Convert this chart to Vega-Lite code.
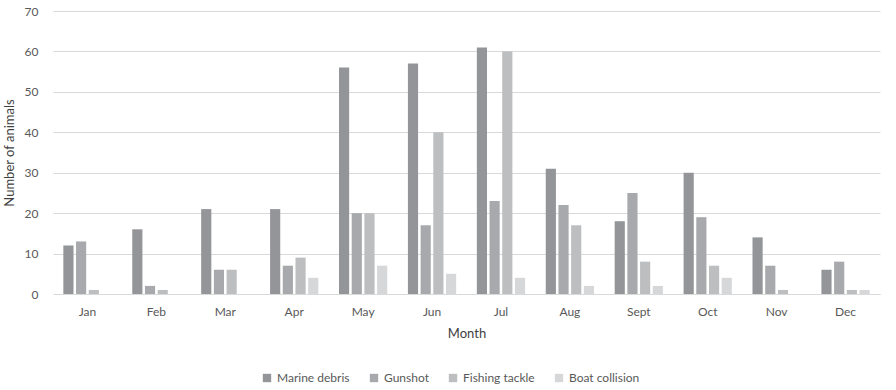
{
  "$schema": "https://vega.github.io/schema/vega-lite/v6.json",
  "width": 827,
  "height": 283,
  "autosize": {"type": "none"},
  "padding": {"left": 53, "top": 11, "right": 16, "bottom": 96},
  "background": "white",
  "data": {
    "values": [
      {"month": "Jan", "cause": "Marine debris", "n": 12},
      {"month": "Jan", "cause": "Gunshot", "n": 13},
      {"month": "Jan", "cause": "Fishing tackle", "n": 1},
      {"month": "Jan", "cause": "Boat collision", "n": 0},
      {"month": "Feb", "cause": "Marine debris", "n": 16},
      {"month": "Feb", "cause": "Gunshot", "n": 2},
      {"month": "Feb", "cause": "Fishing tackle", "n": 1},
      {"month": "Feb", "cause": "Boat collision", "n": 0},
      {"month": "Mar", "cause": "Marine debris", "n": 21},
      {"month": "Mar", "cause": "Gunshot", "n": 6},
      {"month": "Mar", "cause": "Fishing tackle", "n": 6},
      {"month": "Mar", "cause": "Boat collision", "n": 0},
      {"month": "Apr", "cause": "Marine debris", "n": 21},
      {"month": "Apr", "cause": "Gunshot", "n": 7},
      {"month": "Apr", "cause": "Fishing tackle", "n": 9},
      {"month": "Apr", "cause": "Boat collision", "n": 4},
      {"month": "May", "cause": "Marine debris", "n": 56},
      {"month": "May", "cause": "Gunshot", "n": 20},
      {"month": "May", "cause": "Fishing tackle", "n": 20},
      {"month": "May", "cause": "Boat collision", "n": 7},
      {"month": "Jun", "cause": "Marine debris", "n": 57},
      {"month": "Jun", "cause": "Gunshot", "n": 17},
      {"month": "Jun", "cause": "Fishing tackle", "n": 40},
      {"month": "Jun", "cause": "Boat collision", "n": 5},
      {"month": "Jul", "cause": "Marine debris", "n": 61},
      {"month": "Jul", "cause": "Gunshot", "n": 23},
      {"month": "Jul", "cause": "Fishing tackle", "n": 60},
      {"month": "Jul", "cause": "Boat collision", "n": 4},
      {"month": "Aug", "cause": "Marine debris", "n": 31},
      {"month": "Aug", "cause": "Gunshot", "n": 22},
      {"month": "Aug", "cause": "Fishing tackle", "n": 17},
      {"month": "Aug", "cause": "Boat collision", "n": 2},
      {"month": "Sept", "cause": "Marine debris", "n": 18},
      {"month": "Sept", "cause": "Gunshot", "n": 25},
      {"month": "Sept", "cause": "Fishing tackle", "n": 8},
      {"month": "Sept", "cause": "Boat collision", "n": 2},
      {"month": "Oct", "cause": "Marine debris", "n": 30},
      {"month": "Oct", "cause": "Gunshot", "n": 19},
      {"month": "Oct", "cause": "Fishing tackle", "n": 7},
      {"month": "Oct", "cause": "Boat collision", "n": 4},
      {"month": "Nov", "cause": "Marine debris", "n": 14},
      {"month": "Nov", "cause": "Gunshot", "n": 7},
      {"month": "Nov", "cause": "Fishing tackle", "n": 1},
      {"month": "Nov", "cause": "Boat collision", "n": 0},
      {"month": "Dec", "cause": "Marine debris", "n": 6},
      {"month": "Dec", "cause": "Gunshot", "n": 8},
      {"month": "Dec", "cause": "Fishing tackle", "n": 1},
      {"month": "Dec", "cause": "Boat collision", "n": 1}
    ]
  },
  "mark": {"type": "bar"},
  "encoding": {
    "x": {
      "field": "month",
      "type": "nominal",
      "sort": ["Jan", "Feb", "Mar", "Apr", "May", "Jun", "Jul", "Aug", "Sept", "Oct", "Nov", "Dec"],
      "scale": {"paddingInner": 0.3, "paddingOuter": 0.15},
      "axis": {
        "title": "Month",
        "labelAngle": 0,
        "ticks": false,
        "domainColor": "#d9d9d9",
        "domainWidth": 1,
        "labelPadding": 12,
        "titlePadding": 10,
        "labelFont": "Lato",
        "titleFont": "Lato",
        "labelFontSize": 12,
        "titleFontSize": 13,
        "titleFontWeight": "normal",
        "labelColor": "#595959",
        "titleColor": "#404040"
      }
    },
    "xOffset": {
      "field": "cause",
      "sort": ["Marine debris", "Gunshot", "Fishing tackle", "Boat collision"],
      "scale": {"paddingInner": 0.2}
    },
    "y": {
      "field": "n",
      "type": "quantitative",
      "scale": {"domain": [0, 70], "nice": false},
      "axis": {
        "title": "Number of animals",
        "values": [0, 10, 20, 30, 40, 50, 60, 70],
        "labelOverlap": false,
        "domain": false,
        "ticks": false,
        "gridColor": "#d9d9d9",
        "gridWidth": 1,
        "labelPadding": 15,
        "titlePadding": 8,
        "labelFont": "Lato",
        "titleFont": "Lato",
        "labelFontSize": 12,
        "titleFontSize": 13,
        "titleFontWeight": "normal",
        "labelColor": "#595959",
        "titleColor": "#404040"
      }
    },
    "color": {
      "field": "cause",
      "type": "nominal",
      "sort": ["Marine debris", "Gunshot", "Fishing tackle", "Boat collision"],
      "scale": {
        "domain": ["Marine debris", "Gunshot", "Fishing tackle", "Boat collision"],
        "range": ["#939598", "#a7a9ac", "#bcbec0", "#d6d7d9"]
      },
      "legend": {
        "title": null,
        "orient": "none",
        "legendX": 208,
        "legendY": 361,
        "direction": "horizontal",
        "symbolType": "square",
        "symbolSize": 70,
        "labelFont": "Lato",
        "labelFontSize": 12,
        "labelColor": "#595959",
        "columnPadding": 18
      }
    }
  },
  "config": {"view": {"stroke": null}}
}
